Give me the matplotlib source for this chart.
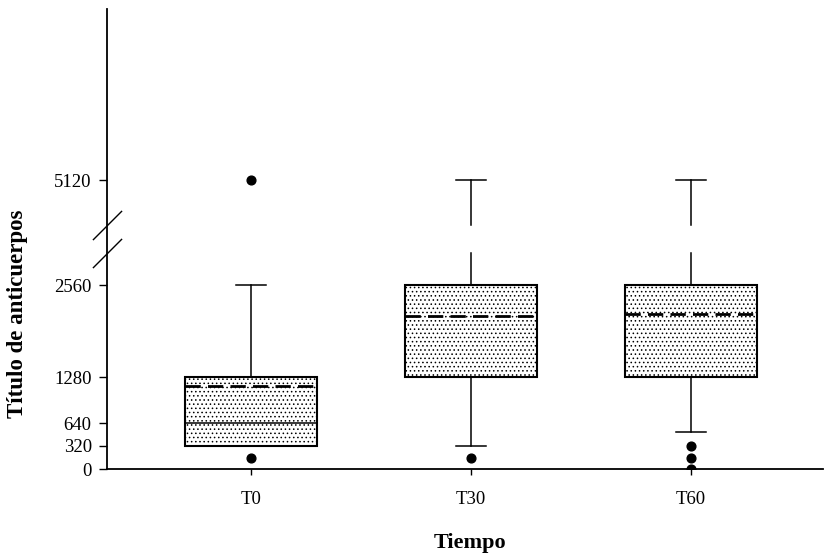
import numpy as np
import matplotlib
matplotlib.use("Agg")
import matplotlib.pyplot as plt

plt.rcParams["font.family"] = ["Liberation Serif", "DejaVu Serif"]
plt.rcParams["hatch.linewidth"] = 0.6

# Data
groups = ["T0", "T30", "T60"]
q1 = [320, 1280, 1280]
q3 = [1280, 2560, 2560]
medians = [640, 2560, 2560]
means = [1160, 2130, 2150]
whisker_low = [320, 320, 510]
whisker_high = [2560, 5120, 5120]
outliers = [[160, 5120], [160], [320, 160, 0]]
y_ticks = [0, 320, 640, 1280, 2560, 5120]

# Broken y axis: values between BREAK_LO and BREAK_HI are squeezed into GAP units
BREAK_LO, BREAK_HI, GAP = 3000, 4500, 400


def fwd(v):
    v = np.asarray(v, dtype=float)
    mid = BREAK_LO + (v - BREAK_LO) * GAP / (BREAK_HI - BREAK_LO)
    return np.where(v <= BREAK_LO, v,
                    np.where(v >= BREAK_HI, v - (BREAK_HI - BREAK_LO) + GAP, mid))


def inv(t):
    t = np.asarray(t, dtype=float)
    mid = BREAK_LO + (t - BREAK_LO) * (BREAK_HI - BREAK_LO) / GAP
    return np.where(t <= BREAK_LO, t,
                    np.where(t >= BREAK_LO + GAP, t + (BREAK_HI - BREAK_LO) - GAP, mid))


fig = plt.figure(figsize=(8.25, 5.6), dpi=100)
ax = fig.add_axes([107 / 825, 91 / 560, 716 / 825, 460 / 560])
ax.set_yscale("function", functions=(fwd, inv))

stats = []
for i, g in enumerate(groups):
    stats.append(dict(label=g, q1=q1[i], q3=q3[i], med=medians[i], mean=means[i],
                      whislo=whisker_low[i], whishi=whisker_high[i],
                      fliers=np.array(outliers[i], dtype=float)))

positions = np.arange(len(groups))
res = ax.bxp(stats, positions=positions, widths=0.6, capwidths=0.136,
             patch_artist=True, showmeans=True, meanline=True, showfliers=True,
             boxprops=dict(facecolor="white", edgecolor="black", linewidth=1.5, hatch="...."),
             whiskerprops=dict(color="black", linewidth=1.1),
             capprops=dict(color="black", linewidth=1.1),
             medianprops=dict(color="black", linewidth=1.1),
             meanprops=dict(color="black", linewidth=2.0, linestyle=(0, (5.5, 2.6))),
             flierprops=dict(marker="o", markerfacecolor="black", markeredgecolor="black",
                             markersize=6.3, linestyle="none"))

# Interrupt whiskers that cross the axis break
for w in res["whiskers"]:
    xd, yd = w.get_xdata(), w.get_ydata()
    lo, hi = min(yd), max(yd)
    if lo < BREAK_LO and hi > BREAK_HI:
        x0 = xd[0]
        w.set_data([x0, x0, x0, x0, x0], [lo, BREAK_LO, np.nan, BREAK_HI, hi])

ax.set_xlim(-0.655, 2.6)
ax.set_ylim(0, 7500)
ax.set_yticks(y_ticks)
ax.set_yticklabels([str(t) for t in y_ticks])
ax.set_xticks(positions)
ax.set_xticklabels(groups)
ax.minorticks_off()

for s in ["top", "right"]:
    ax.spines[s].set_visible(False)
for s in ["left", "bottom"]:
    ax.spines[s].set_linewidth(1.3)

ax.tick_params(axis="y", direction="out", length=6, width=1.0, pad=5, labelsize=13.5)
ax.tick_params(axis="x", direction="out", length=4.5, width=1.0, pad=11, labelsize=13.5)

# Break marks on the y axis
slash = [(-1, -1), (1, 1)]
for yb in (BREAK_LO, BREAK_HI):
    ax.plot([0], [yb], marker=slash, markersize=21, markeredgewidth=1.0,
            markeredgecolor="black", markerfacecolor="none", linestyle="none",
            transform=ax.get_yaxis_transform(), clip_on=False, zorder=5)

fig.text(18 / 825, 1 - 314 / 560, "Título de anticuerpos", rotation=90,
         ha="center", va="center", fontsize=16.5, fontweight="bold")
fig.text(470 / 825, 1 - 543 / 560, "Tiempo", ha="center", va="center",
         fontsize=16, fontweight="bold")

fig.savefig("out.png", dpi=100)
